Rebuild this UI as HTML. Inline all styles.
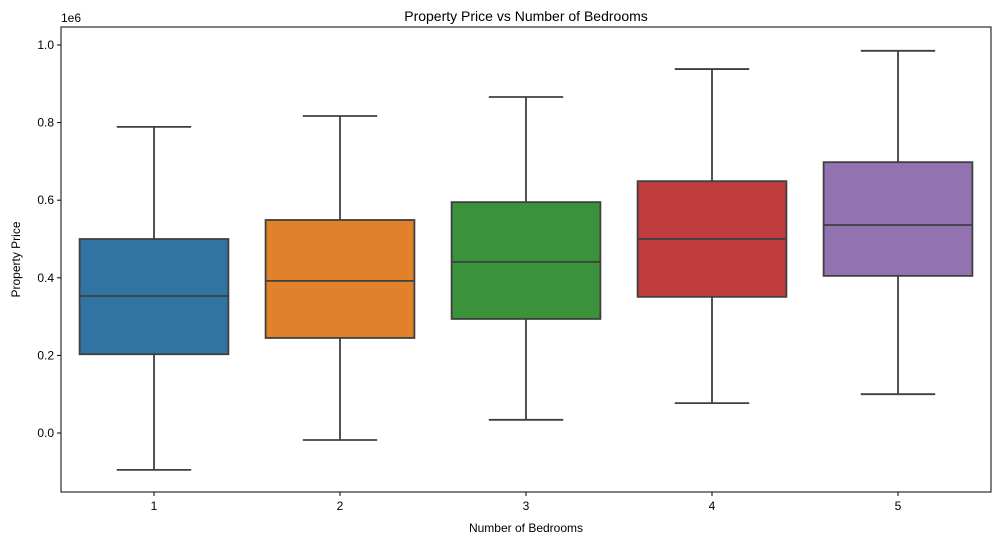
<!DOCTYPE html>
<html><head><meta charset="utf-8">
<style>
html,body{margin:0;padding:0;background:#fff;}
svg{display:block;font-family:"Liberation Sans","DejaVu Sans",sans-serif;}
</style></head>
<body>
<svg id="chart" width="1001" height="545" viewBox="0 0 1001 545"></svg>
<script>
const categories = ["1","2","3","4","5"];
const whiskerLow = [-0.095,-0.018,0.034,0.077,0.100];
const q1Values = [0.203,0.245,0.294,0.351,0.405];
const medianValues = [0.353,0.392,0.441,0.500,0.536];
const q3Values = [0.500,0.549,0.595,0.649,0.698];
const whiskerHigh = [0.789,0.817,0.866,0.938,0.985];
const colors = ["#3274a1","#e1812c","#3a923a","#c03d3e","#9372b2"];
const yTicks = [0.0,0.2,0.4,0.6,0.8,1.0];
const yTickLabels = ["0.0","0.2","0.4","0.6","0.8","1.0"];

const L=61,R=991,T=27,B=492;
const NS="http://www.w3.org/2000/svg";
const svg=document.getElementById('chart');
function y(v){return 433 - v*388;}
const band=(R-L)/categories.length;
function xc(i){return L+band*(i+0.5);}
function el(tag,attrs,parent){const e=document.createElementNS(NS,tag);for(const k in attrs)e.setAttribute(k,attrs[k]);(parent||svg).appendChild(e);return e;}

categories.forEach((c,i)=>{
  const g=el('g',{});
  
  
  const cx=xc(i), bw=band*0.8, cw=band*0.4;
  el('line',{x1:cx,x2:cx,y1:y(whiskerLow[i]),y2:y(q1Values[i]),stroke:'#3f3f3f','stroke-width':1.8},g);
  el('line',{x1:cx,x2:cx,y1:y(q3Values[i]),y2:y(whiskerHigh[i]),stroke:'#3f3f3f','stroke-width':1.8},g);
  el('line',{x1:cx-cw/2,x2:cx+cw/2,y1:y(whiskerLow[i]),y2:y(whiskerLow[i]),stroke:'#3f3f3f','stroke-width':1.8},g);
  el('line',{x1:cx-cw/2,x2:cx+cw/2,y1:y(whiskerHigh[i]),y2:y(whiskerHigh[i]),stroke:'#3f3f3f','stroke-width':1.8},g);
  el('rect',{x:cx-bw/2,y:y(q3Values[i]),width:bw,height:y(q1Values[i])-y(q3Values[i]),fill:colors[i],stroke:'#3f3f3f','stroke-width':1.8},g);
  el('line',{x1:cx-bw/2,x2:cx+bw/2,y1:y(medianValues[i]),y2:y(medianValues[i]),stroke:'#3f3f3f','stroke-width':1.8},g);
  el('line',{x1:cx,x2:cx,y1:B,y2:B+4,stroke:'#000','stroke-width':1},g);
  const t=el('text',{x:cx,y:B+18,'text-anchor':'middle','font-size':12,fill:'#000'},g);
  t.textContent=c;
});
yTicks.forEach((v,i)=>{
  el('line',{x1:L-4,x2:L,y1:y(v),y2:y(v),stroke:'#000','stroke-width':1});
  const t=el('text',{x:L-7,y:y(v)+4,'text-anchor':'end','font-size':12,fill:'#000'});
  
  
  t.textContent=yTickLabels[i];
});
const frame=el('rect',{x:L,y:T,width:R-L,height:B-T,fill:'none',stroke:'#000','stroke-width':1});


let t=el('text',{x:(L+R)/2,y:21,'text-anchor':'middle','font-size':14,fill:'#000'});

t.textContent='Property Price vs Number of Bedrooms';
t=el('text',{x:(L+R)/2,y:532,'text-anchor':'middle','font-size':12,fill:'#000'});

t.textContent='Number of Bedrooms';
t=el('text',{x:20,y:(T+B)/2,'text-anchor':'middle','font-size':12,fill:'#000',transform:'rotate(-90 20 '+((T+B)/2)+')'});

t.textContent='Property Price';
t=el('text',{x:61,y:22,'text-anchor':'start','font-size':12,fill:'#000'});

t.textContent='1e6';
</script>
</body></html>
